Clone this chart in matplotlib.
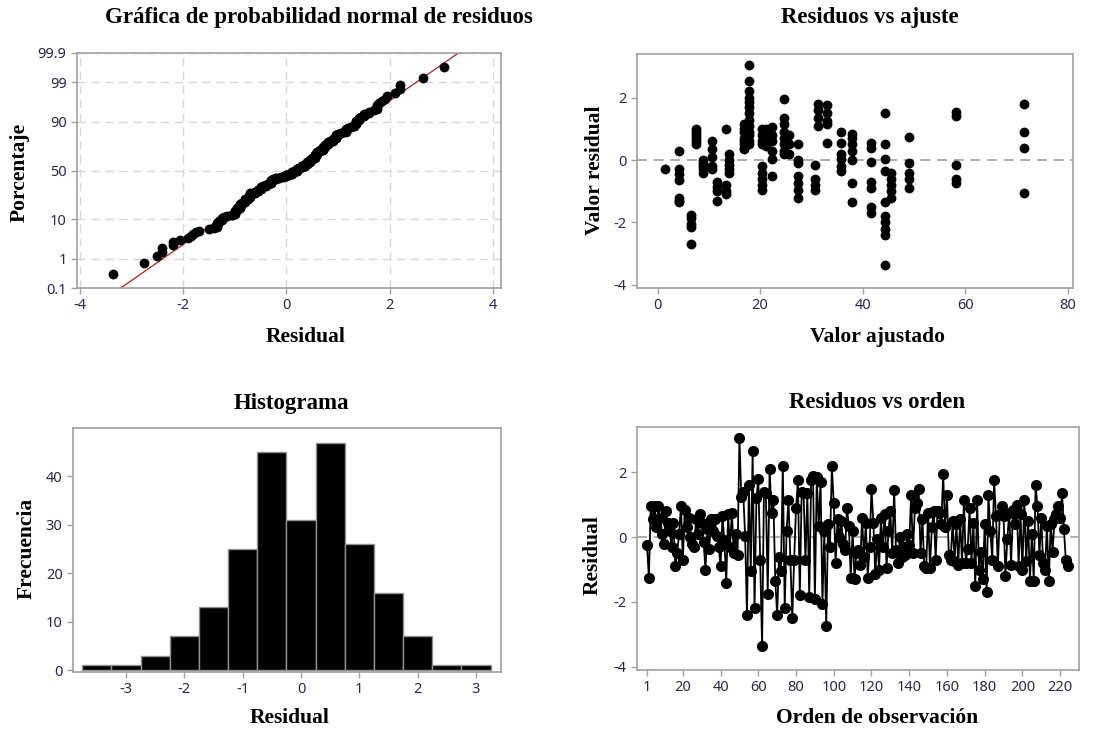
import numpy as np
import matplotlib
matplotlib.use("Agg")
import matplotlib.pyplot as plt
from statistics import NormalDist

# --- DATOS ---
# residuos en orden de observación (1..224)
residuos = [
    -0.25, -1.25, 0.95, 0.55, 0.95, 0.3, 0.95, 0.6, 0.1, -0.2,
    0.8, 0.45, 0.2, -0.3, 0.45, -0.9, -0.5, 0.1, 0.95, -0.7,
    0.85, 0.3, 0.6, 0.0, -0.2, -0.3, 0.55, 0.1, 0.7, 0.45,
    -0.15, -1.0, 0.25, -0.35, 0.55, 0.2, 0.55, 0.05, -0.3, -0.9,
    0.65, -0.1, -1.4, 0.7, -0.3, 0.75, -0.5, 0.1, -0.55, 3.05,
    1.25, 1.4, 0.05, -2.4, 1.6, -1.05, 2.65, -2.2, 1.2, 1.8,
    -0.7, -3.35, 1.4, 1.35, -1.75, 2.1, 0.75, 1.15, -1.35, -2.4,
    -0.6, -1.05, 2.2, -2.2, 0.2, 1.15, -0.7, -2.5, -0.7, 0.9,
    1.75, -1.8, 1.4, 1.35, -0.7, 1.35, -1.85, 1.75, 1.9, -1.9,
    1.85, 0.35, 1.7, -2.05, 0.2, -2.75, 0.4, -0.3, 2.2, 1.05,
    -0.8, 0.55, 0.0, 0.5, -0.2, -0.4, 0.9, 0.35, -1.25, 0.2,
    -1.3, -0.5, -0.4, -0.85, 0.6, -0.6, 0.45, -1.25, -0.3, 1.5,
    0.45, -1.15, -0.05, -1.0, 0.6, -0.3, 0.7, -0.95, 0.2, 0.8,
    -0.5, 1.45, -0.4, -0.8, 0.0, -0.6, -0.3, -0.55, 0.1, -0.25,
    1.3, -0.5, 0.9, 1.05, 1.5, -0.5, 0.55, -0.9, -0.95, 0.75,
    -0.95, 0.3, 0.8, -0.7, 0.8, 0.75, 0.4, 1.95, 0.3, 1.3,
    -0.55, -0.7, 0.5, -0.75, 0.4, -0.85, 0.55, -0.8, 1.15, -0.8,
    -0.35, 0.9, -0.8, 0.45, -1.5, 1.15, -1.0, -0.45, -1.3, 0.4,
    -1.7, 1.3, 0.2, -0.7, 1.75, 0.65, -0.9, 0.7, 0.95, 0.65,
    -1.2, -0.05, 0.75, -0.85, 0.85, 0.4, 1.0, -0.9, 0.7, -1.0,
    1.15, -0.75, 0.5, -1.35, 0.1, -1.35, 1.6, 0.95, -0.55, 0.6,
    -0.8, -1.0, 0.35, -1.35, 0.4, -0.45, 0.55, 0.7, 0.95, 0.6,
    1.35, 0.25, -0.7, -0.9,
]

# residuos vs ajuste: valor ajustado de cada grupo y sus residuos
valores_ajustados = [1.5, 4.2, 6.5, 7.5, 8.9, 10.7, 11.5, 13.3, 14.0, 16.9,
                     17.9, 20.3, 21.1, 22.3, 24.7, 25.7, 27.4, 30.7, 31.3, 33.1,
                     35.7, 38.0, 41.6, 44.4, 45.5, 49.1, 58.2, 71.5]
residuos_grupo = [
    [-0.27],
    [0.3, -0.3, -0.45, -0.65, -1.2, -1.3, -1.35],
    [-1.75, -1.85, -2.05, -2.15, -2.7],
    [1.0, 0.9, 0.8, 0.7, 0.6, 0.5],
    [0.0, -0.1, -0.2, -0.3, -0.4],
    [0.6, 0.35, 0.1, -0.2, -0.3],
    [-0.7, -0.85, -1.0, -1.3],
    [1.0, -0.8, -1.0, -1.1],
    [0.2, 0.0, -0.15, -0.3, -0.4],
    [1.15, 1.0, 0.9, 0.7, 0.6, 0.5, 0.4, 0.35],
    [3.05, 2.55, 2.2, 2.0, 1.85, 1.7, 1.5, 1.3, 1.1, 0.9, 0.8, 0.6, 0.5],
    [1.0, 0.8, 0.6, 0.5, -0.2, -0.4, -0.6, -0.8, -0.95],
    [1.0, 0.8, 0.6, 0.45],
    [1.05, 0.8, 0.6, 0.3, 0.05, -0.5],
    [1.95, 1.35, 1.15, 0.9, 0.7, 0.5, 0.3, 0.2],
    [0.8, 0.5, 0.2],
    [0.5, 0.0, -0.1, -0.5, -0.75, -0.95, -1.2],
    [-0.15, -0.6, -0.8, -0.95],
    [1.8, 1.6, 1.35, 1.1],
    [1.75, 1.5, 1.25, 1.15, 0.55],
    [0.9, 0.55, 0.2, 0.05, -0.2, -0.35],
    [0.85, 0.7, 0.5, 0.3, 0.0, -0.75, -1.35],
    [0.55, 0.4, -0.05, -0.7, -0.9, -1.5, -1.7],
    [1.5, 0.5, 0.05, -0.35, -1.35, -1.8, -2.0, -2.2, -2.4, -3.35],
    [-0.4, -0.6, -0.8, -1.0, -1.2],
    [0.75, -0.1, -0.4, -0.6, -0.9],
    [1.55, 1.4, -0.15, -0.6, -0.75],
    [1.8, 0.9, 0.4, -1.05],
]

# histograma: centros de clase y frecuencias
centros_hist = [-3.5, -3.0, -2.5, -2.0, -1.5, -1.0, -0.5, 0.0, 0.5, 1.0, 1.5, 2.0, 2.5, 3.0]
frecuencias = [1, 1, 3, 7, 13, 25, 45, 31, 47, 26, 16, 7, 1, 1]

# etiquetas del eje de probabilidad
prob_ticks = [0.1, 1, 10, 50, 90, 99, 99.9]

# --- ESTILO ---
plt.rcParams['axes.unicode_minus'] = False
W, H = 1117, 733
col_spine = '#a0a0a0'
col_tick = '#2a2a48'
serif = 'Liberation Serif'
sans = 'Noto Sans'
nd = NormalDist()


def px_axes(l, t, r, b):
    return fig.add_axes([l / W, 1 - b / H, (r - l) / W, (b - t) / H])


def estilo(ax):
    for s in ax.spines.values():
        s.set_color(col_spine)
        s.set_linewidth(1.2)
    ax.tick_params(colors=col_spine, labelcolor=col_tick, length=4, width=1)
    for lab in ax.get_xticklabels() + ax.get_yticklabels():
        lab.set_fontfamily(sans)
        lab.set_fontsize(10.5)


def fig_text(x, y, s, size=15.5, rot=0):
    fig.text(x / W, 1 - y / H, s, ha='center', va='center', rotation=rot,
             fontfamily=serif, fontweight='bold', fontsize=size, color='black')


fig = plt.figure(figsize=(W / 100, H / 100), dpi=100)

# 1. Gráfica de probabilidad normal
ax1 = px_axes(77, 53, 501, 288)
r_ord = np.sort(np.array(residuos))
n = len(r_ord)
z = [nd.inv_cdf((i + 1 - 0.3) / (n + 0.4)) for i in range(n)]
mu, sd = r_ord.mean(), r_ord.std(ddof=1)
zl = np.array([-3.5, 3.5])
ax1.plot(mu + sd * zl, zl, color='#b02020', lw=0.9, zorder=2)
ax1.scatter(r_ord, z, s=50, color='black', zorder=3, linewidths=0)
yt = [nd.inv_cdf(p / 100) for p in prob_ticks]
ax1.set_yticks(yt)
ax1.set_yticklabels([str(p) for p in prob_ticks])
ax1.set_ylim(yt[0], yt[-1])
ax1.set_xlim(-4.05, 4.15)
ax1.set_xticks([-4, -2, 0, 2, 4])
ax1.grid(True, color='#d8d8d8', linestyle=(0, (6, 4)), lw=1)
ax1.set_axisbelow(True)
estilo(ax1)

# 2. Residuos vs ajuste
ax2 = px_axes(637, 54, 1073, 288)
for xv, rs in zip(valores_ajustados, residuos_grupo):
    ax2.scatter([xv] * len(rs), rs, s=50, color='black', linewidths=0, zorder=3)
ax2.axhline(0, color='#a0a0a0', linestyle=(0, (6, 4)), lw=1.2, zorder=1)
ax2.set_xlim(-4, 81)
ax2.set_ylim(-4.1, 3.4)
ax2.set_xticks([0, 20, 40, 60, 80])
ax2.set_yticks([-4, -2, 0, 2])
estilo(ax2)

# 3. Histograma
ax3 = px_axes(73, 428, 501, 672)
ax3.bar(centros_hist, frecuencias, width=0.5, color='black', edgecolor='#909090', lw=1)
ax3.set_xlim(-3.91, 3.43)
ax3.set_ylim(-0.4, 50)
ax3.set_xticks([-3, -2, -1, 0, 1, 2, 3])
ax3.set_yticks([0, 10, 20, 30, 40])
estilo(ax3)

# 4. Residuos vs orden
ax4 = px_axes(637, 427, 1079, 670)
orden = np.arange(1, n + 1)
ax4.axhline(0, color='#a0a0a0', linestyle=(0, (6, 4)), lw=1.2, zorder=1)
ax4.plot(orden, residuos, color='black', lw=1.3, marker='o', ms=7, zorder=3)
ax4.set_xlim(-4.3, 230)
ax4.set_ylim(-4.1, 3.4)
ax4.set_xticks([1] + list(range(20, 221, 20)))
ax4.set_yticks([-4, -2, 0, 2])
estilo(ax4)

# títulos y etiquetas
fig_text(319, 18, 'Gráfica de probabilidad normal de residuos', 16.5)
fig_text(870, 18, 'Residuos vs ajuste', 16.5)
fig_text(291, 403, 'Histograma', 16.5)
fig_text(877, 403, 'Residuos vs orden', 16.5)
fig_text(306, 337, 'Residual')
fig_text(877, 337, 'Valor ajustado')
fig_text(290, 718, 'Residual')
fig_text(877, 718, 'Orden de observación')
fig_text(20, 172, 'Porcentaje', rot=90)
fig_text(595, 170, 'Valor residual', rot=90)
fig_text(27, 548, 'Frecuencia', rot=90)
fig_text(593, 555, 'Residual', rot=90)

fig.savefig('out.png', dpi=100)
